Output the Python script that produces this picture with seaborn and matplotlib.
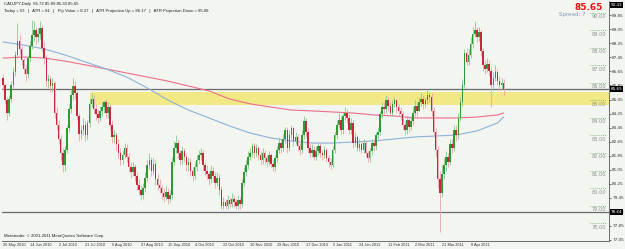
import numpy as np
import pandas as pd
import matplotlib
matplotlib.use("Agg")
import matplotlib.pyplot as plt
import seaborn as sns

# CADJPY daily candles, one per weekday from 26 May 2010
start_date = "2010-05-26"
first_open = 86.3
closes = [
    85.9, 85.0, 84.3, 85.1, 85.9, 86.6, 87.6, 88.4, 87.9, 87.3,
    86.8, 86.5, 87.4, 88.1, 88.7, 89.0, 88.6, 88.8, 89.1,
    88.0, 87.4, 86.1, 86.2, 85.8, 86.0, 84.3, 83.6, 82.8, 82.0,
    81.3, 82.2, 83.4, 84.5, 85.3, 85.8, 85.4, 84.1, 83.1, 83.3,
    83.6, 83.0, 83.7, 84.8, 85.1, 84.5, 84.2, 84.0, 84.4,
    84.6, 84.9, 84.3, 84.6, 83.6, 82.9, 83.0, 82.5, 82.0, 81.6,
    81.9, 82.3, 81.8, 81.2, 80.9, 81.2, 80.7, 80.2, 79.9, 79.6,
    80.0, 80.6, 81.3, 81.6, 81.0, 81.4, 80.5, 80.2, 80.0,
    79.7, 79.5, 79.8, 79.4, 79.6, 81.5, 82.3, 82.6, 82.0, 81.6,
    82.1, 81.8, 81.3, 81.5, 81.0, 80.7, 81.2, 81.6, 81.9, 82.0,
    81.3, 81.0, 80.8, 80.5, 81.0, 80.7, 80.3, 80.6, 79.9,
    79.0, 79.2, 79.0, 79.3, 79.1, 79.4, 79.2, 79.0, 79.3, 79.1,
    80.3, 80.9, 81.3, 81.8, 82.0, 82.4, 82.0, 82.3, 81.9, 81.6,
    82.0, 81.7, 81.5, 81.9, 81.4, 81.2, 81.7, 82.2, 82.6, 82.3,
    82.8, 83.3, 82.3, 83.0, 83.4, 82.7, 82.9, 82.4, 82.2,
    83.0, 83.8, 83.2, 82.3, 82.0, 82.2, 81.8, 82.1, 82.4, 82.0,
    81.9, 82.2, 81.7, 81.5, 81.3, 82.2, 83.0, 83.6, 83.9, 83.3,
    84.1, 84.3, 84.0, 83.3, 83.7, 82.6, 82.9, 82.3, 82.5,
    82.2, 82.6, 82.0, 81.7, 82.1, 82.6, 82.4, 83.0, 83.2, 84.2,
    84.6, 84.5, 85.0, 84.7, 84.3, 84.8, 85.0, 84.6, 84.4, 84.2,
    83.6, 83.3, 83.9, 83.5, 83.8, 84.3, 84.7, 84.4, 84.9,
    85.1, 84.8, 85.0, 85.3, 85.2, 84.4, 83.2, 82.2, 80.5, 79.7,
    80.8, 81.3, 81.8, 81.5, 82.5, 82.3, 83.3, 83.0, 84.0, 84.9,
    85.9, 87.7, 87.2, 87.6, 88.2, 88.8, 89.0, 88.6, 88.9, 87.8,
    87.0, 86.8, 87.1, 86.7, 85.9, 86.3, 86.6, 86.1, 85.9, 86.0,
    85.65,
]
highs = [
    86.5, 86.0, 85.2, 85.3, 86.1, 86.9, 87.8, 89.4, 88.7, 88.1,
    87.4, 87.0, 87.6, 88.4, 89.6, 89.5, 89.2, 89.1, 89.5,
    89.3, 88.3, 87.6, 86.5, 86.4, 86.3, 86.1, 84.6, 83.9, 83.0,
    82.3, 82.4, 83.6, 84.8, 85.6, 86.3, 86.1, 85.6, 84.3, 83.6,
    84.0, 83.8, 83.9, 85.1, 85.4, 85.3, 84.8, 84.5, 84.7,
    84.9, 85.0, 85.1, 84.9, 84.8, 83.9, 83.3, 83.2, 82.8, 82.3,
    82.2, 82.6, 82.5, 82.0, 81.5, 81.5, 81.4, 80.9, 80.5, 80.2,
    80.3, 80.9, 81.6, 82.0, 81.8, 81.7, 81.6, 80.8, 80.5,
    80.2, 80.0, 80.1, 80.0, 79.9, 81.8, 82.7, 83.0, 82.8, 82.2,
    82.4, 82.3, 82.0, 81.8, 81.7, 81.2, 81.5, 81.9, 82.2, 82.3,
    82.2, 81.5, 81.3, 81.0, 81.3, 81.2, 80.9, 80.9, 80.8,
    80.1, 79.5, 79.4, 79.6, 79.5, 79.7, 79.6, 79.4, 79.6, 79.5,
    80.5, 81.2, 81.6, 82.1, 82.3, 82.6, 82.6, 82.5, 82.4, 82.1,
    82.3, 82.2, 81.9, 82.1, 82.0, 81.6, 81.9, 82.4, 82.9, 82.8,
    83.1, 83.5, 83.5, 83.3, 83.6, 83.5, 83.2, 83.1, 82.6,
    83.3, 84.1, 84.0, 83.4, 82.5, 82.5, 82.4, 82.4, 82.6, 82.6,
    82.2, 82.4, 82.3, 81.9, 81.7, 82.4, 83.2, 83.9, 84.3, 84.1,
    84.3, 84.6, 84.5, 84.2, 84.0, 83.9, 83.2, 83.0, 82.8,
    82.7, 82.8, 82.7, 82.1, 82.3, 82.8, 82.8, 83.2, 83.5, 84.4,
    84.9, 84.9, 85.3, 85.2, 84.9, 85.0, 85.2, 85.1, 84.8, 84.6,
    84.4, 83.8, 84.1, 84.0, 84.1, 84.6, 85.0, 84.9, 85.2,
    85.4, 85.3, 85.2, 85.6, 85.5, 85.4, 84.6, 83.4, 82.4, 81.0,
    81.3, 81.7, 82.1, 82.0, 82.8, 82.8, 83.6, 83.6, 84.3, 85.2,
    86.2, 87.9, 88.0, 87.9, 88.6, 89.2, 89.5, 89.2, 89.2, 89.0,
    88.0, 87.3, 87.4, 87.3, 86.9, 86.6, 87.0, 86.8, 86.4, 86.3,
    86.2,
]
lows = [
    85.6, 84.8, 83.9, 84.1, 84.9, 85.7, 86.4, 87.4, 87.6, 87.0,
    86.5, 86.1, 86.3, 87.2, 87.9, 88.4, 88.2, 88.3, 88.5,
    87.8, 87.1, 85.8, 85.7, 85.5, 85.5, 84.0, 83.3, 82.5, 81.6,
    80.9, 81.0, 82.0, 83.2, 84.3, 85.0, 85.1, 83.9, 82.7, 82.8,
    83.0, 82.7, 82.8, 83.5, 84.6, 84.2, 83.9, 83.7, 83.8,
    84.1, 84.3, 84.0, 84.0, 83.3, 82.6, 82.6, 82.2, 81.7, 81.3,
    81.4, 81.7, 81.5, 80.9, 80.6, 80.7, 80.4, 79.9, 79.6, 79.3,
    79.4, 79.8, 80.4, 81.1, 80.7, 80.8, 80.2, 79.9, 79.7,
    79.4, 79.2, 79.3, 79.1, 79.2, 79.4, 81.3, 82.0, 81.7, 81.3,
    81.4, 81.5, 81.0, 81.0, 80.7, 80.4, 80.5, 81.0, 81.4, 81.6,
    81.0, 80.7, 80.5, 80.2, 80.3, 80.4, 80.0, 80.1, 79.6,
    78.8, 78.8, 78.8, 78.8, 78.9, 78.9, 78.9, 78.8, 78.8, 78.8,
    78.9, 80.1, 80.7, 81.1, 81.6, 81.8, 81.7, 81.8, 81.6, 81.3,
    81.4, 81.4, 81.2, 81.3, 81.2, 81.0, 81.0, 81.5, 82.0, 82.0,
    82.1, 82.6, 82.0, 82.1, 82.8, 82.4, 82.5, 82.1, 81.9,
    82.0, 82.8, 82.9, 82.0, 81.8, 81.8, 81.6, 81.6, 81.9, 81.8,
    81.6, 81.7, 81.5, 81.2, 81.1, 81.2, 82.0, 82.8, 83.4, 83.1,
    83.1, 83.9, 83.7, 83.1, 83.1, 82.3, 82.4, 82.1, 82.1,
    82.0, 82.0, 81.8, 81.5, 81.5, 81.9, 82.1, 82.2, 82.8, 83.0,
    84.0, 84.2, 84.3, 84.4, 84.1, 84.1, 84.6, 84.3, 84.1, 83.9,
    83.3, 83.0, 83.1, 83.2, 83.3, 83.6, 84.1, 84.1, 84.4,
    84.7, 84.5, 84.6, 84.8, 84.9, 84.1, 82.9, 81.8, 80.0, 77.5,
    79.5, 80.5, 81.0, 81.2, 81.3, 82.0, 82.1, 82.7, 82.8, 83.8,
    84.7, 85.7, 87.0, 87.0, 87.4, 88.0, 88.6, 88.3, 88.4, 87.5,
    86.7, 86.5, 86.6, 86.4, 84.6, 85.7, 86.1, 85.9, 85.6, 85.6,
    85.3,
]
# moving averages, read every 10 bars plus the last bar
ma_red = [87.41, 87.47, 87.41, 87.24, 87.02, 86.79, 86.56, 86.33, 86.10, 85.82,
          85.54, 85.08, 84.80, 84.62, 84.45, 84.40, 84.34, 84.28, 84.17, 84.11,
          84.00, 84.00, 84.00, 84.05, 84.17, 84.28]
ma_blue = [88.33, 88.15, 87.93, 87.59, 87.19, 86.79, 86.33, 85.71, 85.02, 84.45,
           84.00, 83.54, 83.14, 82.86, 82.69, 82.57, 82.57, 82.63, 82.69, 82.80,
           82.92, 82.97, 83.03, 83.26, 83.71, 84.05]

date_labels = ["26 May 2010", "14 Jun 2010", "2 Jul 2010", "21 Jul 2010", "9 Aug 2010",
               "27 Aug 2010", "15 Sep 2010", "4 Oct 2010", "22 Oct 2010", "10 Nov 2010",
               "29 Nov 2010", "17 Dec 2010", "5 Jan 2011", "24 Jan 2011", "11 Feb 2011",
               "2 Mar 2011", "21 Mar 2011", "8 Apr 2011"]
level_prices = [90, 89, 88, 87, 86, 85, 84, 83, 82, 81, 80, 79, 78]
zone_low, zone_high = 84.75, 85.5
zone_start = "2010-07-23"
bid = 85.65
support = 78.64
scale_top = 90.43
header1 = "CADJPY,Daily  85.72 85.89 85.30 85.65"
header2 = ("Today = 53   |   ATR = 81   |   Pip Value = 8.37   |   "
           "ATR Projection Up = 86.17   |   ATR Projection Down = 85.08")


def main():
    sns.set_style("white")
    plt.rcParams['font.family'] = ['DejaVu Sans']
    narrow = ['Liberation Sans Narrow', 'Liberation Sans', 'DejaVu Sans']

    n = len(closes)
    cal = pd.bdate_range(start_date, periods=n)
    df = pd.DataFrame({'bar': np.arange(n), 'close': closes, 'high': highs, 'low': lows})
    df['open'] = [first_open] + closes[:-1]
    up = df['close'] >= df['open']

    bg = '#f3f5f1'
    fig = plt.figure(figsize=(6.25, 2.49), dpi=100, facecolor=bg)
    ax = fig.add_axes([2 / 625, 8.5 / 249, 607 / 625, 239.5 / 249], facecolor=bg)
    x_left, x_right = -0.5, -0.5 + 607 / 2.06
    y_low, y_high = 77.02, 90.66

    # support/resistance zone
    z0 = cal.get_loc(pd.Timestamp(zone_start))
    ax.fill_between([z0, x_right], zone_low, zone_high, color='#f4e77a', alpha=0.9, lw=0, zorder=0)
    ax.axhline(bid, color='#6a6a6a', lw=0.9, zorder=1)
    ax.axhline(support, color='#6a6a6a', lw=0.9, zorder=1)

    # moving averages
    ma_bars = np.r_[np.arange(0, n, 10), n - 1]
    ma = pd.DataFrame({'bar': ma_bars, 'red': ma_red, 'blue': ma_blue})
    sns.lineplot(data=ma, x='bar', y='red', ax=ax, color='#ec6f8a', lw=0.8, zorder=2)
    sns.lineplot(data=ma, x='bar', y='blue', ax=ax, color='#8fb0d8', lw=0.8, zorder=2)

    # candles
    for is_up, body_c, wick_c in [(True, '#2f9a35', '#86c98a'), (False, '#c8283c', '#eaa2ae')]:
        d = df[up == is_up]
        ax.vlines(d['bar'], d['low'], d['high'], color=wick_c, lw=0.6, zorder=3)
        bottom = np.minimum(d['open'], d['close'])
        height = np.maximum(np.abs(d['close'] - d['open']), 0.04)
        ax.bar(d['bar'], height, bottom=bottom, width=0.75, color=body_c, lw=0, zorder=4)

    ax.set_xlim(x_left, x_right)
    ax.set_ylim(y_low, y_high)
    ax.set_xlabel('')
    ax.set_ylabel('')

    # price levels on the right
    for p in level_prices:
        ax.plot([x_right - 9, x_right - 1.5], [p, p], color='#5cae5c', lw=0.6,
                ls=(0, (1, 1.5)), zorder=2)
        ax.text(x_right - 1.5, p - 0.08, f"{p:.2f}", fontsize=3.6, color='#8a8f88',
                ha='right', va='top', zorder=5)

    # right price scale
    ticks = [77.05 + 0.8 * k for k in range(17)]
    ax.yaxis.tick_right()
    ax.set_yticks(ticks)
    ax.set_yticklabels([f"{t:.2f}" for t in ticks])
    ax.tick_params(axis='y', labelsize=3.0, length=1.5, width=0.5, pad=0.8, colors='#333333')
    for val in [scale_top, bid, support]:
        ax.text(1.003, (val - y_low) / (y_high - y_low), f"{val:.2f}", transform=ax.transAxes,
                fontsize=3.0, color='white', ha='left', va='center',
                bbox=dict(boxstyle='square,pad=0.15', fc='black', ec='none'))

    # date axis, one tick per label date
    ax.set_xticks(cal.get_indexer(pd.to_datetime(date_labels, format="%d %b %Y")))
    ax.set_xticklabels(date_labels, ha='left', family=narrow)
    ax.tick_params(axis='x', labelsize=2.8, length=1.5, width=0.5, pad=0.5, colors='#333333')

    for s in ax.spines.values():
        s.set_color('#555555')
        s.set_linewidth(0.6)
    ax.spines['top'].set_visible(False)
    ax.spines['left'].set_visible(False)

    ax.text(0.003, 0.995, header1, transform=ax.transAxes, fontsize=3.1, color='#222222',
            ha='left', va='top', family=narrow)
    ax.text(0.003, 0.965, header2, transform=ax.transAxes, fontsize=3.1, color='#222222',
            ha='left', va='top', family=narrow)
    ax.text(0.003, 0.012, "Metatrader. \u00a9 2001-2011 MetaQuotes Software Corp.",
            transform=ax.transAxes, fontsize=3.1, color='#222222', ha='left', va='bottom',
            family=narrow)
    ax.text(0.99, 0.99, "85.65", transform=ax.transAxes, fontsize=6.5, color='#ee1111',
            fontweight='bold', ha='right', va='top')
    ax.text(0.962, 0.955, "Spread: 7", transform=ax.transAxes, fontsize=4.0, color='#8096b8',
            ha='right', va='top')

    fig.savefig('out.png', dpi=100, facecolor=bg)
    plt.close(fig)


if __name__ == "__main__":
    main()
